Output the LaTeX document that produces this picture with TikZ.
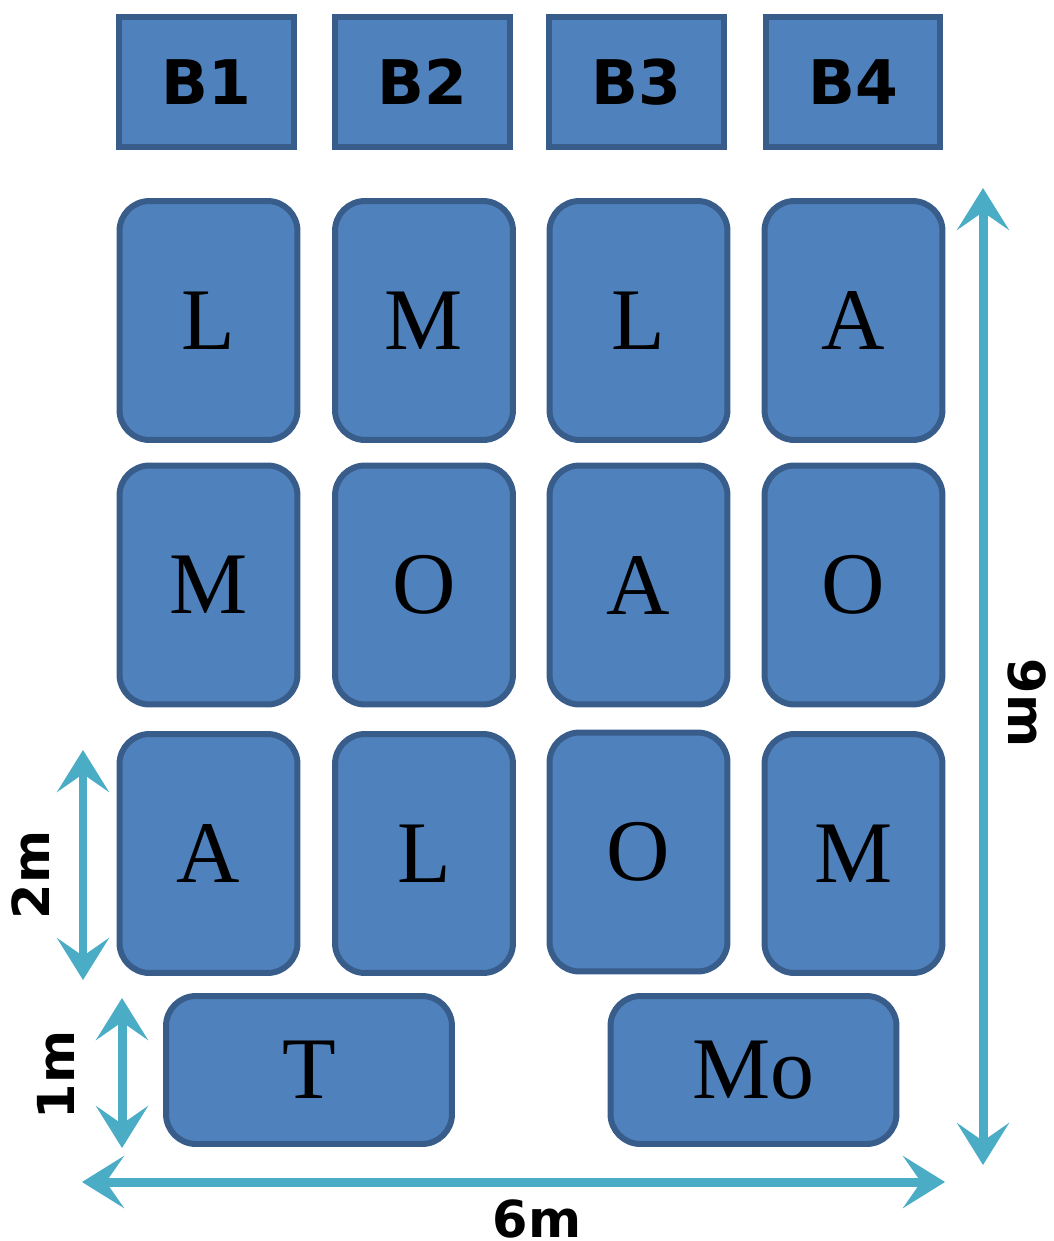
\documentclass[tikz,border=0pt]{standalone}
\usepackage{fontspec}
\setmainfont{Liberation Serif}
\newfontfamily\dimfont{DejaVu Sans}
\usetikzlibrary{arrows.meta}
\definecolor{tilefill}{HTML}{4F81BD}
\definecolor{tileline}{HTML}{385D8A}
\definecolor{dimcol}{HTML}{4BACC6}
\tikzset{
  hdr/.style={rectangle, draw=tileline, fill=tilefill, line width=0.12cm, minimum width=3.5cm, minimum height=2.6cm, inner sep=0pt, font=\dimfont\bfseries\fontsize{35}{40}\selectfont},
  tile/.style={rectangle, rounded corners=0.6cm, draw=tileline, fill=tilefill, line width=0.12cm, minimum width=3.56cm, minimum height=4.78cm, inner sep=0pt, font=\fontsize{50}{56}\selectfont},
  wide/.style={tile, minimum width=5.72cm, minimum height=2.96cm},
  dim/.style={draw=dimcol, line width=0.18cm, {Stealth[length=0.84cm,width=1.04cm,inset=0.36cm]}-{Stealth[length=0.84cm,width=1.04cm,inset=0.36cm]}},
  dimtext/.style={font=\dimfont\bfseries\fontsize{29}{34}\selectfont, inner sep=0pt}
}
\begin{document}
\begin{tikzpicture}[x=0.02cm,y=-0.02cm]
		\useasboundingbox (0,0) rectangle (1054,1241);
		% block headers
		\node (b1) at (206.5,82) [hdr] {B1};
		\node (b2) at (422.5,82) [hdr] {B2};
		\node (b3) at (636.5,82) [hdr] {B3};
		\node (b4) at (853,82) [hdr] {B4};
		% first row
		\node (r1c1) at (208.5,320.5) [tile] {L};
		\node (r1c2) at (424,320.5) [tile] {M};
		\node (r1c3) at (638.5,320.5) [tile] {L};
		\node (r1c4) at (853.5,320.5) [tile] {A};
		% second row
		\node (r2c1) at (208.5,585) [tile] {M};
		\node (r2c2) at (424,585) [tile] {O};
		\node (r2c3) at (638.5,585) [tile] {A};
		\node (r2c4) at (853.5,585) [tile] {O};
		% third row
		\node (r3c1) at (208.5,853.5) [tile] {A};
		\node (r3c2) at (424,853.5) [tile] {L};
		\node (r3c3) at (638.5,852) [tile] {O};
		\node (r3c4) at (853.5,853.5) [tile] {M};
		% bottom row
		\node (tb) at (309,1070) [wide] {T};
		\node (mo) at (753.5,1070) [wide] {Mo};
		% dimensions
		\coordinate (h2top) at (83,750);
		\coordinate (h2bot) at (83,980);
		\coordinate (h1top) at (122,998);
		\coordinate (h1bot) at (122,1148);
		\coordinate (wleft) at (82,1182);
		\coordinate (wright) at (945,1182);
		\coordinate (htop) at (983,188);
		\coordinate (hbot) at (983,1165);
		\path [dim] (h2top) -- (h2bot);
		\path [dim] (h1top) -- (h1bot);
		\path [dim] (wleft) -- (wright);
		\path [dim] (htop) -- (hbot);
		\node (l2m) at (31,875) [dimtext, rotate=90] {2m};
		\node (l1m) at (56,1075) [dimtext, rotate=90] {1m};
		\node (l9m) at (1027,703) [dimtext, rotate=-90] {9m};
		\node (l6m) at (537,1219) [dimtext] {6m};
	\end{tikzpicture}
\end{document}
